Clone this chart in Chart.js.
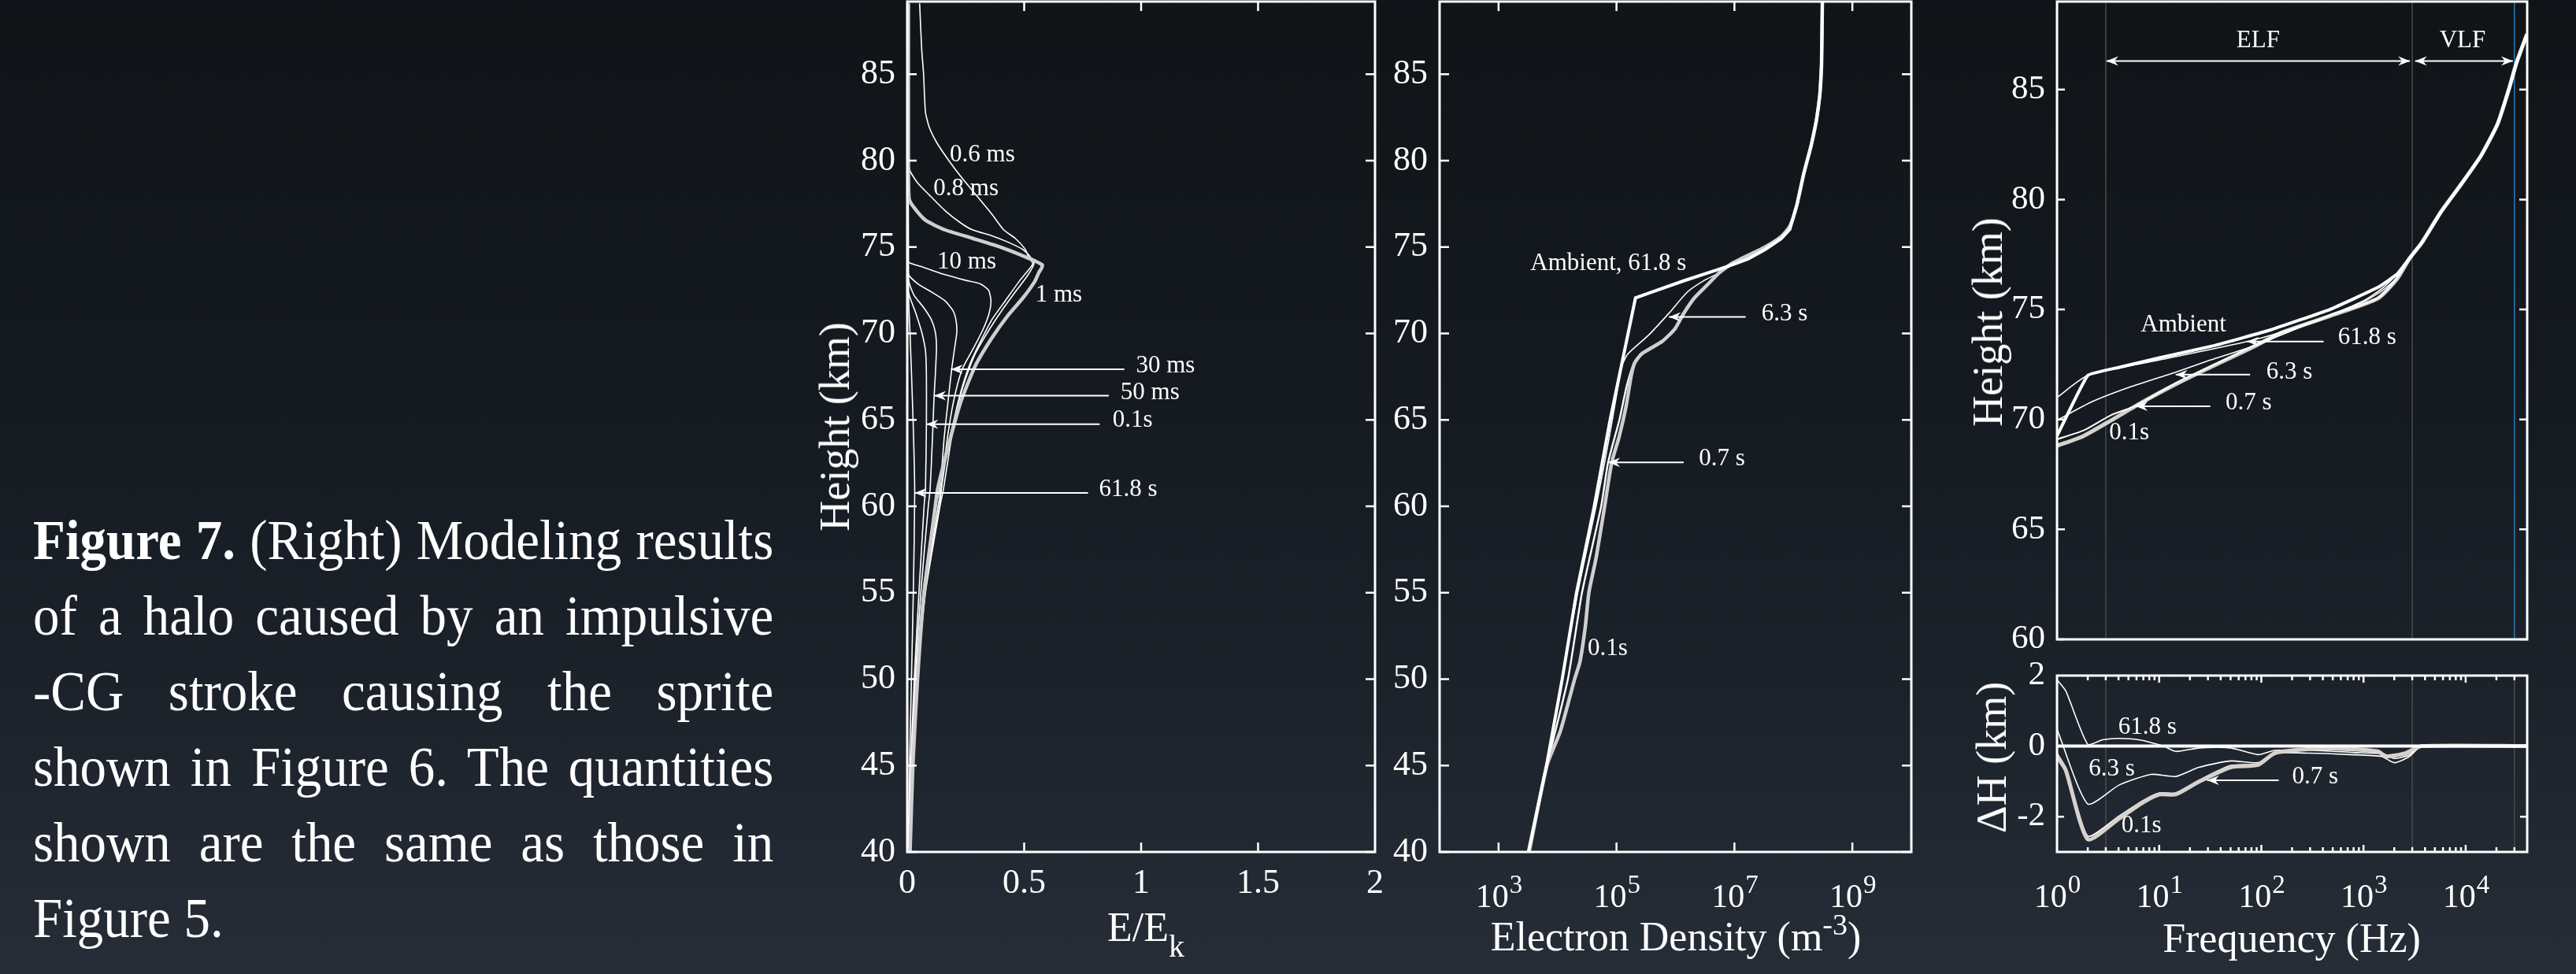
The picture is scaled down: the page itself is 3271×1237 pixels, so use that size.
<!DOCTYPE html>
<html>
<head>
<meta charset="utf-8">
<script src="https://cdn.jsdelivr.net/npm/chart.js@4.4.1/dist/chart.umd.min.js"></script>
<style>
  html, body { margin: 0; padding: 0; }
  body {
    width: 3271px; height: 1237px; overflow: hidden; position: relative;
    background: linear-gradient(180deg, #101418 0%, #141a20 40%, #1c222a 70%, #262d37 100%);
    font-family: 'Liberation Serif', 'Times New Roman', serif; color: #fff;
  }
  canvas { position: absolute; }
  .cap { position: absolute; left: 42px; top: 638px; width: 1011px; transform-origin: 0 0;
    transform: scaleX(0.93); font-size: 72px; line-height: 96px; }
  .cap div { text-align: justify; text-align-last: justify; }
  .cap div.last { text-align-last: left; }
  .t { position: absolute; white-space: nowrap; font-size: 52px; line-height: 1; transform: translate(-50%, -50%); }
  .rot { font-size: 54px; transform: translate(-50%, -50%) rotate(-90deg); }
</style>
</head>
<body>
<div class="cap">
  <div><b>Figure 7.</b> (Right) Modeling results</div>
  <div>of a halo caused by an impulsive</div>
  <div>-CG stroke causing the sprite</div>
  <div>shown in Figure 6. The quantities</div>
  <div>shown are the same as those in</div>
  <div class="last">Figure 5.</div>
</div>

<canvas id="pE" width="708" height="1150" style="left:1052px;top:0"></canvas>
<canvas id="pN" width="719" height="1160" style="left:1728px;top:0"></canvas>
<canvas id="pF" width="717" height="840" style="left:2512px;top:0"></canvas>
<canvas id="pD" width="717" height="330" style="left:2512px;top:830px"></canvas>

<div class="t rot" style="left:1060px;top:542px">Height (km)</div>
<div class="t" style="left:1455px;top:1178px">E/E<span style="font-size:40px;position:relative;top:20px">k</span></div>
<div class="t" style="left:2128px;top:1190px">Electron Density (m<span style="font-size:38px;position:relative;top:-20px">-3</span>)</div>
<div class="t rot" style="left:2524px;top:409px">Height (km)</div>
<div class="t rot" style="left:2529px;top:962px">ΔH (km)</div>
<div class="t" style="left:2910px;top:1192px">Frequency (Hz)</div>

<script>
const FONT = "'Liberation Serif', 'Times New Roman', serif";

// ---- left panel: E/Ek profiles (height km, E/Ek) ----
const e1H = [89.1, 80, 77.8, 77.3, 76.55, 76.0, 75.5, 74.94, 74.4, 73.95, 73.5, 73.0, 72.06, 71.0, 69.7, 68.1, 66.0, 63.6, 61.0, 60, 55, 50, 45, 40];
const e1V = [0.005, 0.005, 0.008, 0.028, 0.078, 0.16, 0.28, 0.41, 0.51, 0.578, 0.562, 0.545, 0.495, 0.428, 0.36, 0.29, 0.228, 0.178, 0.13, 0.12, 0.072, 0.044, 0.024, 0.012];
const e06H = [89.1, 86.4, 85.0, 82.8, 81.9, 81.0, 80.0, 79.1, 78.0, 76.9, 76.0, 75.5, 74.9, 74.4, 74.04, 73.7, 73.0, 71.9, 70.8, 69.5, 68.3, 67.0, 65.2, 63.1, 61.0, 60, 55, 50, 45, 40];
const e06V = [0.053, 0.062, 0.07, 0.078, 0.095, 0.128, 0.178, 0.228, 0.295, 0.362, 0.412, 0.462, 0.503, 0.52, 0.537, 0.52, 0.478, 0.42, 0.362, 0.312, 0.27, 0.237, 0.203, 0.17, 0.145, 0.132, 0.075, 0.042, 0.022, 0.01];
const e08H = [89.1, 80.5, 80.0, 79.4, 78.7, 78.0, 77.1, 76.4, 76.0, 75.65, 75.3, 74.85, 74.4, 74.04, 73.3, 72.4, 71.3, 70.1, 68.8, 67.4, 65.8, 63.6, 61.0, 60, 55, 50, 45, 40];
const e08V = [0.003, 0.003, 0.005, 0.012, 0.045, 0.095, 0.162, 0.228, 0.278, 0.362, 0.428, 0.495, 0.528, 0.542, 0.512, 0.462, 0.403, 0.345, 0.29, 0.25, 0.215, 0.185, 0.155, 0.14, 0.078, 0.045, 0.024, 0.011];
const e10H = [89.1, 74.5, 74.13, 73.86, 73.4, 73.09, 72.87, 72.5, 71.88, 71.16, 70.26, 69.19, 67.93, 66.5, 64.7, 62.2, 60, 55, 50, 45, 40];
const e10V = [0.002, 0.002, 0.004, 0.062, 0.162, 0.245, 0.312, 0.348, 0.358, 0.35, 0.325, 0.285, 0.235, 0.205, 0.18, 0.155, 0.138, 0.074, 0.042, 0.022, 0.01];
const e30H = [89.1, 73.5, 72.87, 72.33, 71.88, 71.34, 70.8, 70.08, 69.19, 67.93, 66.13, 63.98, 61.0, 60, 55, 50, 45, 40];
const e30V = [0.002, 0.003, 0.045, 0.112, 0.162, 0.195, 0.208, 0.212, 0.203, 0.19, 0.175, 0.158, 0.14, 0.12, 0.068, 0.038, 0.02, 0.009];
const e50H = [89.1, 73.2, 72.24, 71.5, 70.8, 70.08, 69.19, 67.57, 66.4, 64.0, 61.0, 60, 55, 50, 45, 40];
const e50V = [0.002, 0.004, 0.028, 0.07, 0.103, 0.12, 0.125, 0.12, 0.115, 0.108, 0.098, 0.09, 0.058, 0.034, 0.018, 0.008];
const e100H = [89.1, 72.5, 71.16, 70.08, 69.0, 67.6, 64.75, 61.0, 60, 55, 50, 45, 40];
const e100V = [0.002, 0.004, 0.037, 0.062, 0.078, 0.082, 0.082, 0.078, 0.072, 0.05, 0.03, 0.015, 0.006];
const e618H = [89.1, 72, 70, 65, 60.77, 55, 50, 45, 40];
const e618V = [0.003, 0.006, 0.012, 0.025, 0.032, 0.026, 0.018, 0.01, 0.004];

// ---- middle panel: electron density (height km, m^-3) ----
const nAmbH = [40, 45, 50, 55, 60, 65, 72.06, 72.33, 73.05, 73.72, 73.99, 74.31, 74.85, 75.48, 76.02, 77.46, 79.25, 80.87, 82.3, 83.75, 85.54, 89.2];
const nAmbV = [3.2e3, 6.5e3, 1.2e4, 2.1e4, 4.2e4, 7.8e4, 2.1e5, 3.5e5, 1.4e6, 5.5e6, 9.5e6, 1.7e7, 3.3e7, 6.2e7, 8.7e7, 1.15e8, 1.5e8, 2.0e8, 2.45e8, 2.8e8, 3.0e8, 3.1e8];
const n63H = [40, 45, 50, 55, 60, 62.54, 65, 67, 68.1, 68.8, 69.9, 71.2, 72.4, 73.1, 73.6, 74.0, 74.31, 74.85, 75.48, 76.02, 77.46, 79.25, 80.87, 82.3, 83.75, 85.54, 89.2];
const n63V = [3.2e3, 6.5e3, 1.2e4, 2.2e4, 4.5e4, 6.3e4, 8.5e4, 1.07e5, 1.23e5, 1.55e5, 3.5e5, 7.9e5, 1.6e6, 3.2e6, 6.3e6, 9.5e6, 1.7e7, 3.3e7, 6.2e7, 8.7e7, 1.15e8, 1.5e8, 2.0e8, 2.45e8, 2.8e8, 3.0e8, 3.1e8];
const n07H = [40, 45, 50, 55, 60, 62.54, 65, 67, 68.3, 68.83, 69.55, 70.27, 71.16, 72.06, 72.78, 73.5, 74.04, 74.3, 75.0, 75.6, 76.2, 77.46, 79.25, 80.87, 82.3, 83.75, 85.54, 89.2];
const n07V = [3.3e3, 6.6e3, 1.5e4, 2.6e4, 5.5e4, 7.2e4, 1.12e5, 1.5e5, 2.0e5, 2.7e5, 6.0e5, 9.8e5, 1.38e6, 2.1e6, 3.4e6, 5.5e6, 8.9e6, 1.26e7, 3.3e7, 6.2e7, 8.7e7, 1.15e8, 1.5e8, 2.0e8, 2.45e8, 2.8e8, 3.0e8, 3.1e8];
const n01H = [40, 45, 47, 50, 51, 53, 55, 57, 60, 62.54, 63.98, 65.77, 67.57, 68.3, 68.83, 69.55, 70.27, 71.16, 72.06, 72.78, 73.5, 74.04, 74.3, 75.0, 75.6, 76.2, 77.46, 79.25, 80.87, 82.3, 83.75, 85.54, 89.2];
const n01V = [3.3e3, 6.6e3, 1.12e4, 1.95e4, 2.4e4, 2.95e4, 3.4e4, 4.5e4, 6.3e4, 8.3e4, 1.1e5, 1.45e5, 1.78e5, 2.04e5, 2.7e5, 6.0e5, 9.8e5, 1.38e6, 2.1e6, 3.4e6, 5.5e6, 8.9e6, 1.26e7, 3.3e7, 6.2e7, 8.7e7, 1.15e8, 1.5e8, 2.0e8, 2.45e8, 2.8e8, 3.0e8, 3.1e8];

// ---- right panel: reflection height vs frequency (Hz, km) ----
const fAmbF = [1, 2.0, 4.07, 10, 34.7, 123, 468, 1380, 2138, 2818, 3715, 5754, 9120, 14125, 20417, 26303, 31623, 39811];
const fAmbH = [69.25, 72.0, 72.37, 72.8, 73.36, 74.07, 75.0, 76.0, 76.61, 77.32, 78.03, 79.45, 80.72, 81.99, 83.41, 84.97, 86.25, 87.52];
const f618F = [1, 2.0, 10, 72.4, 316, 1000, 1514, 2138, 2818, 3715, 5754, 9120, 14125, 20417, 26303, 31623, 39811];
const f618H = [71.0, 72.0, 72.7, 73.54, 74.4, 75.4, 75.95, 76.61, 77.32, 78.03, 79.45, 80.72, 81.99, 83.41, 84.97, 86.25, 87.52];
const f63F = [1, 2.19, 5.37, 14.5, 31.6, 79.4, 190, 468, 1000, 1514, 2138, 2818, 3715, 5754, 9120, 14125, 20417, 26303, 31623, 39811];
const f63H = [69.96, 70.8, 71.5, 72.15, 72.7, 73.3, 74.0, 74.75, 75.35, 75.85, 76.45, 77.32, 78.03, 79.45, 80.72, 81.99, 83.41, 84.97, 86.25, 87.52];
const f07F = [1, 1.82, 3.39, 5.9, 14.5, 31.6, 79.4, 158, 468, 1380, 2138, 2818, 3715, 5754, 9120, 14125, 20417, 26303, 31623, 39811];
const f07H = [69.1, 69.5, 70.2, 70.62, 71.65, 72.4, 73.3, 73.95, 74.72, 75.52, 76.45, 77.32, 78.03, 79.45, 80.72, 81.99, 83.41, 84.97, 86.25, 87.52];
const f01F = [1, 1.82, 3.39, 6.9, 14.5, 31.6, 79.4, 158, 468, 1380, 2138, 2818, 3715, 5754, 9120, 14125, 20417, 26303, 31623, 39811];
const f01H = [68.8, 69.25, 69.96, 70.8, 71.6, 72.37, 73.25, 73.95, 74.7, 75.5, 76.4, 77.32, 78.03, 79.45, 80.72, 81.99, 83.41, 84.97, 86.25, 87.52];

// ---- right lower panel: height change (Hz, km) ----
const dAmbF = [1, 40000];
const dAmbV = [0, 0];
const d618F = [1, 1.22, 2.0, 2.8, 4.07, 6.3, 11, 14.5, 25, 50, 93, 135, 316, 794, 1585, 2000, 2818, 3715, 40000];
const d618V = [1.88, 1.56, 0.05, 0.18, 0.22, 0.18, 0.0, -0.15, -0.05, -0.05, -0.24, -0.12, -0.12, -0.18, -0.22, -0.35, -0.25, 0, 0];
const d63F = [1, 2.0, 4.07, 8.3, 14.5, 24.5, 50, 93, 135, 300, 740, 1500, 2000, 2800, 3715, 40000];
const d63V = [0.48, -1.64, -1.10, -0.80, -0.86, -0.60, -0.42, -0.47, -0.2, -0.2, -0.24, -0.29, -0.47, -0.3, 0, 0];
const d07F = [1, 1.22, 2.0, 4.07, 6.9, 10, 14.5, 24.5, 50, 93, 135, 300, 740, 1400, 1660, 2000, 2800, 3715, 40000];
const d07V = [-0.2, -0.62, -2.55, -1.98, -1.55, -1.33, -1.33, -0.97, -0.55, -0.5, -0.18, -0.1, -0.12, -0.18, -0.3, -0.3, -0.2, 0, 0];
const d01F = [1, 1.22, 2.0, 4.07, 6.9, 10, 14.5, 24.5, 50, 93, 135, 300, 740, 1380, 1660, 2570, 3715, 40000];
const d01V = [-0.29, -0.69, -2.64, -2.05, -1.6, -1.37, -1.37, -1.01, -0.6, -0.53, -0.2, -0.08, -0.08, -0.15, -0.29, -0.2, 0, 0];

// band edges (Hz)
const bandEdges = [3, 3000];
const vlfTop = 30000;

// ticks
const heightTicks = [40, 45, 50, 55, 60, 65, 70, 75, 80, 85];
const ratioTicks = [0, 0.5, 1, 1.5, 2];
const densityExps = [3, 5, 7, 9];
const freqExps = [0, 1, 2, 3, 4];
const freqMinor = [2, 3, 4, 5, 6, 7, 8, 9, 20, 30, 40, 50, 60, 70, 80, 90, 200, 300, 400, 500, 600, 700, 800, 900,
  2000, 3000, 4000, 5000, 6000, 7000, 8000, 9000, 20000, 30000];
const refTicks = [60, 65, 70, 75, 80, 85];
const dhTicks = [-2, 0, 2];

const THIN = '#ffffff';
const GREY = '#cfcfcf';

const line = (xs, ys, color, width, tension = 0.2) => ({
  data: xs.map((v, i) => ({ x: v, y: ys[i] })),
  showLine: true, borderColor: color, borderWidth: width,
  pointRadius: 0, tension, fill: false,
});

function arrowHead(ctx, x, y, dir) {
  ctx.beginPath();
  ctx.moveTo(x, y);
  ctx.lineTo(x - dir * 15, y - 6);
  ctx.lineTo(x - dir * 10, y);
  ctx.lineTo(x - dir * 15, y + 6);
  ctx.closePath();
  ctx.fill();
}

const frame = {
  id: 'frame',
  afterDraw(chart, args, o) {
    const { ctx, chartArea: a, scales: { x, y } } = chart;
    ctx.save();
    ctx.strokeStyle = '#fff';
    ctx.lineWidth = 2.5;
    ctx.beginPath();
    const vx = (vals, len) => (vals || []).forEach(v => {
      const px = x.getPixelForValue(v);
      ctx.moveTo(px, a.bottom); ctx.lineTo(px, a.bottom - len);
      ctx.moveTo(px, a.top); ctx.lineTo(px, a.top + len);
    });
    vx(o.xt, o.len);
    vx(o.xm, o.mlen);
    (o.yt || []).forEach(v => {
      const py = y.getPixelForValue(v);
      ctx.moveTo(a.left, py); ctx.lineTo(a.left + o.len, py);
      ctx.moveTo(a.right, py); ctx.lineTo(a.right - o.len, py);
    });
    ctx.stroke();
    ctx.lineWidth = 3;
    ctx.strokeRect(a.left, a.top, a.width, a.height);
    ctx.restore();
  }
};

const notes = {
  id: 'notes',
  afterDatasetsDraw(chart, args, o) {
    const { ctx, scales: { x, y } } = chart;
    ctx.save();
    ctx.fillStyle = '#fff';
    ctx.strokeStyle = '#fff';
    ctx.font = `31px ${FONT}`;
    ctx.textBaseline = 'middle';
    (o.items || []).forEach(n => {
      ctx.textAlign = n.align || 'left';
      ctx.fillText(n.text, x.getPixelForValue(n.x), y.getPixelForValue(n.y));
    });
    (o.arrows || []).forEach(r => {
      const x0 = x.getPixelForValue(r.from), x1 = x.getPixelForValue(r.to), py = y.getPixelForValue(r.y);
      ctx.lineWidth = 2;
      ctx.beginPath(); ctx.moveTo(x0, py); ctx.lineTo(x1, py); ctx.stroke();
      arrowHead(ctx, x1, py, Math.sign(x1 - x0));
      if (r.both) arrowHead(ctx, x0, py, Math.sign(x0 - x1));
    });
    ctx.restore();
  }
};

const powLabels = {
  id: 'powLabels',
  afterDraw(chart, args, o) {
    if (!o.exps) return;
    const { ctx, chartArea: a, scales: { x } } = chart;
    ctx.save();
    ctx.fillStyle = '#fff';
    ctx.textBaseline = 'alphabetic';
    ctx.textAlign = 'left';
    o.exps.forEach(e => {
      const px = x.getPixelForValue(Math.pow(10, e));
      ctx.font = `42px ${FONT}`;
      const w1 = ctx.measureText('10').width;
      ctx.font = `33px ${FONT}`;
      const w2 = ctx.measureText(String(e)).width;
      const left = px - (w1 + w2) / 2;
      ctx.font = `42px ${FONT}`;
      ctx.fillText('10', left, a.bottom + 70);
      ctx.font = `33px ${FONT}`;
      ctx.fillText(String(e), left + w1 + 1, a.bottom + 52);
    });
    ctx.restore();
  }
};

function axis(opts) {
  const { type = 'linear', min, max, ticks, show, size, vertical, fontSize = 44 } = opts;
  return {
    type, min, max,
    grid: { display: false, drawTicks: false },
    border: { display: false },
    afterBuildTicks: s => { s.ticks = ticks.map(v => ({ value: v })); },
    ticks: {
      display: show, color: '#fff', padding: vertical ? 15 : 14,
      font: { family: FONT, size: fontSize }, maxRotation: 0, autoSkip: false,
      callback: v => String(v),
    },
    afterFit: s => {
      if (vertical) s.width = size; else s.height = size;
      s.paddingLeft = 0; s.paddingRight = 0; s.paddingTop = 0; s.paddingBottom = 0;
    },
  };
}

function makeChart(id, datasets, scales, pad, pluginOpts) {
  return new Chart(document.getElementById(id).getContext('2d'), {
    type: 'scatter',
    data: { datasets },
    options: {
      responsive: false, animation: false, devicePixelRatio: 1,
      layout: { padding: pad },
      plugins: Object.assign({ legend: { display: false }, tooltip: { enabled: false } }, pluginOpts),
      scales,
    },
    plugins: [frame, notes, powLabels],
  });
}

// left panel
makeChart('pE', [
  line(e1V, e1H, GREY, 4.5),
  line(e06V, e06H, THIN, 1.6),
  line(e08V, e08H, THIN, 1.6),
  line(e10V, e10H, THIN, 1.6),
  line(e30V, e30H, THIN, 1.6),
  line(e50V, e50H, THIN, 1.6),
  line(e100V, e100H, THIN, 1.6),
  line(e618V, e618H, THIN, 1.6),
], {
  x: axis({ min: 0, max: 2, ticks: ratioTicks, show: true, size: 68 }),
  y: axis({ min: 40, max: 89.2, ticks: heightTicks, show: true, size: 100, vertical: true }),
}, { top: 2, right: 14, left: 0, bottom: 0 }, {
  frame: { xt: [0.5, 1, 1.5], yt: heightTicks, len: 12 },
  notes: {
    items: [
      { text: '0.6 ms', x: 0.182, y: 80.33 },
      { text: '0.8 ms', x: 0.112, y: 78.35 },
      { text: '10 ms', x: 0.128, y: 74.13 },
      { text: '1 ms', x: 0.548, y: 72.2 },
      { text: '30 ms', x: 0.978, y: 68.1 },
      { text: '50 ms', x: 0.912, y: 66.58 },
      { text: '0.1s', x: 0.878, y: 64.96 },
      { text: '61.8 s', x: 0.82, y: 60.96 },
    ],
    arrows: [
      { from: 0.928, to: 0.187, y: 67.93 },
      { from: 0.862, to: 0.115, y: 66.4 },
      { from: 0.823, to: 0.082, y: 64.75 },
      { from: 0.773, to: 0.032, y: 60.77 },
    ],
  },
});

// middle panel
makeChart('pN', [
  line(nAmbV, nAmbH, THIN, 4, 0),
  line(n01V, n01H, GREY, 4.5),
  line(n07V, n07H, THIN, 2.4),
  line(n63V, n63H, THIN, 1.6),
], {
  x: axis({ type: 'logarithmic', min: 100, max: 1e10, ticks: [1e3, 1e5, 1e7, 1e9], show: false, size: 78 }),
  y: axis({ min: 40, max: 89.2, ticks: heightTicks, show: true, size: 100, vertical: true }),
}, { top: 2, right: 20, left: 0, bottom: 0 }, {
  frame: { xt: [1e3, 1e5, 1e7, 1e9], yt: heightTicks, len: 12 },
  powLabels: { exps: densityExps },
  notes: {
    items: [
      { text: 'Ambient, 61.8 s', x: 3470, y: 74.04 },
      { text: '6.3 s', x: 2.88e7, y: 71.13 },
      { text: '0.7 s', x: 2.5e6, y: 62.72 },
      { text: '0.1s', x: 3.24e4, y: 51.74 },
    ],
    arrows: [
      { from: 1.55e7, to: 7.76e5, y: 70.95 },
      { from: 1.38e6, to: 7.24e4, y: 62.54 },
    ],
  },
});

// right upper panel
const vline = (f, y0, y1, color) => line([f, f], [y0, y1], color, 1.5, 0);
makeChart('pF', [
  line(fAmbF, fAmbH, THIN, 4, 0.1),
  line(f618F, f618H, THIN, 1.6),
  line(f63F, f63H, THIN, 1.6),
  line(f07F, f07H, THIN, 2),
  line(f01F, f01H, '#d6d2cc', 5),
  vline(bandEdges[0], 60, 89, '#4a4a4a'),
  vline(bandEdges[1], 60, 89, '#4a4a4a'),
  vline(vlfTop, 60, 89, '#2a7ab8'),
], {
  x: axis({ type: 'logarithmic', min: 1, max: 40000, ticks: [1, 10, 100, 1000, 10000], show: false, size: 28 }),
  y: axis({ min: 60, max: 89, ticks: refTicks, show: true, size: 100, vertical: true, fontSize: 43 }),
}, { top: 2, right: 20, left: 0, bottom: 0 }, {
  frame: { yt: refTicks, len: 10 },
  notes: {
    items: [
      { text: 'ELF', x: 93, y: 87.2, align: 'center' },
      { text: 'VLF', x: 9330, y: 87.2, align: 'center' },
      { text: 'Ambient', x: 6.6, y: 74.28 },
      { text: '61.8 s', x: 562, y: 73.71 },
      { text: '6.3 s', x: 112, y: 72.15 },
      { text: '0.7 s', x: 44.7, y: 70.74 },
      { text: '0.1s', x: 3.24, y: 69.39 },
    ],
    arrows: [
      { from: 3.05, to: 2850, y: 86.3, both: true },
      { from: 3200, to: 29000, y: 86.3, both: true },
      { from: 407, to: 72.4, y: 73.54 },
      { from: 77.6, to: 14.5, y: 72.04 },
      { from: 31.6, to: 5.9, y: 70.6 },
    ],
  },
});

// right lower panel
makeChart('pD', [
  line(dAmbF, dAmbV, THIN, 4, 0),
  line(d01F, d01V, '#d6d2cc', 5),
  line(d07F, d07V, THIN, 1.8),
  line(d63F, d63V, THIN, 1.6),
  line(d618F, d618V, THIN, 1.6),
  vline(bandEdges[0], -3, 2, '#4a4a4a'),
  vline(bandEdges[1], -3, 2, '#4a4a4a'),
  vline(vlfTop, -3, 2, '#4a4a4a'),
], {
  x: axis({ type: 'logarithmic', min: 1, max: 40000, ticks: [1, 10, 100, 1000, 10000], show: false, size: 78 }),
  y: axis({ min: -3, max: 2, ticks: dhTicks, show: true, size: 100, vertical: true, fontSize: 43 }),
}, { top: 28, right: 20, left: 0, bottom: 0 }, {
  frame: { xt: [10, 100, 1000, 10000], xm: freqMinor, yt: [-2, 0], len: 9, mlen: 6 },
  powLabels: { exps: freqExps },
  notes: {
    items: [
      { text: '61.8 s', x: 3.98, y: 0.52 },
      { text: '6.3 s', x: 2.04, y: -0.65 },
      { text: '0.1s', x: 4.27, y: -2.27 },
      { text: '0.7 s', x: 200, y: -0.88 },
    ],
    arrows: [
      { from: 148, to: 29.5, y: -0.97 },
    ],
  },
});
</script>
</body>
</html>
